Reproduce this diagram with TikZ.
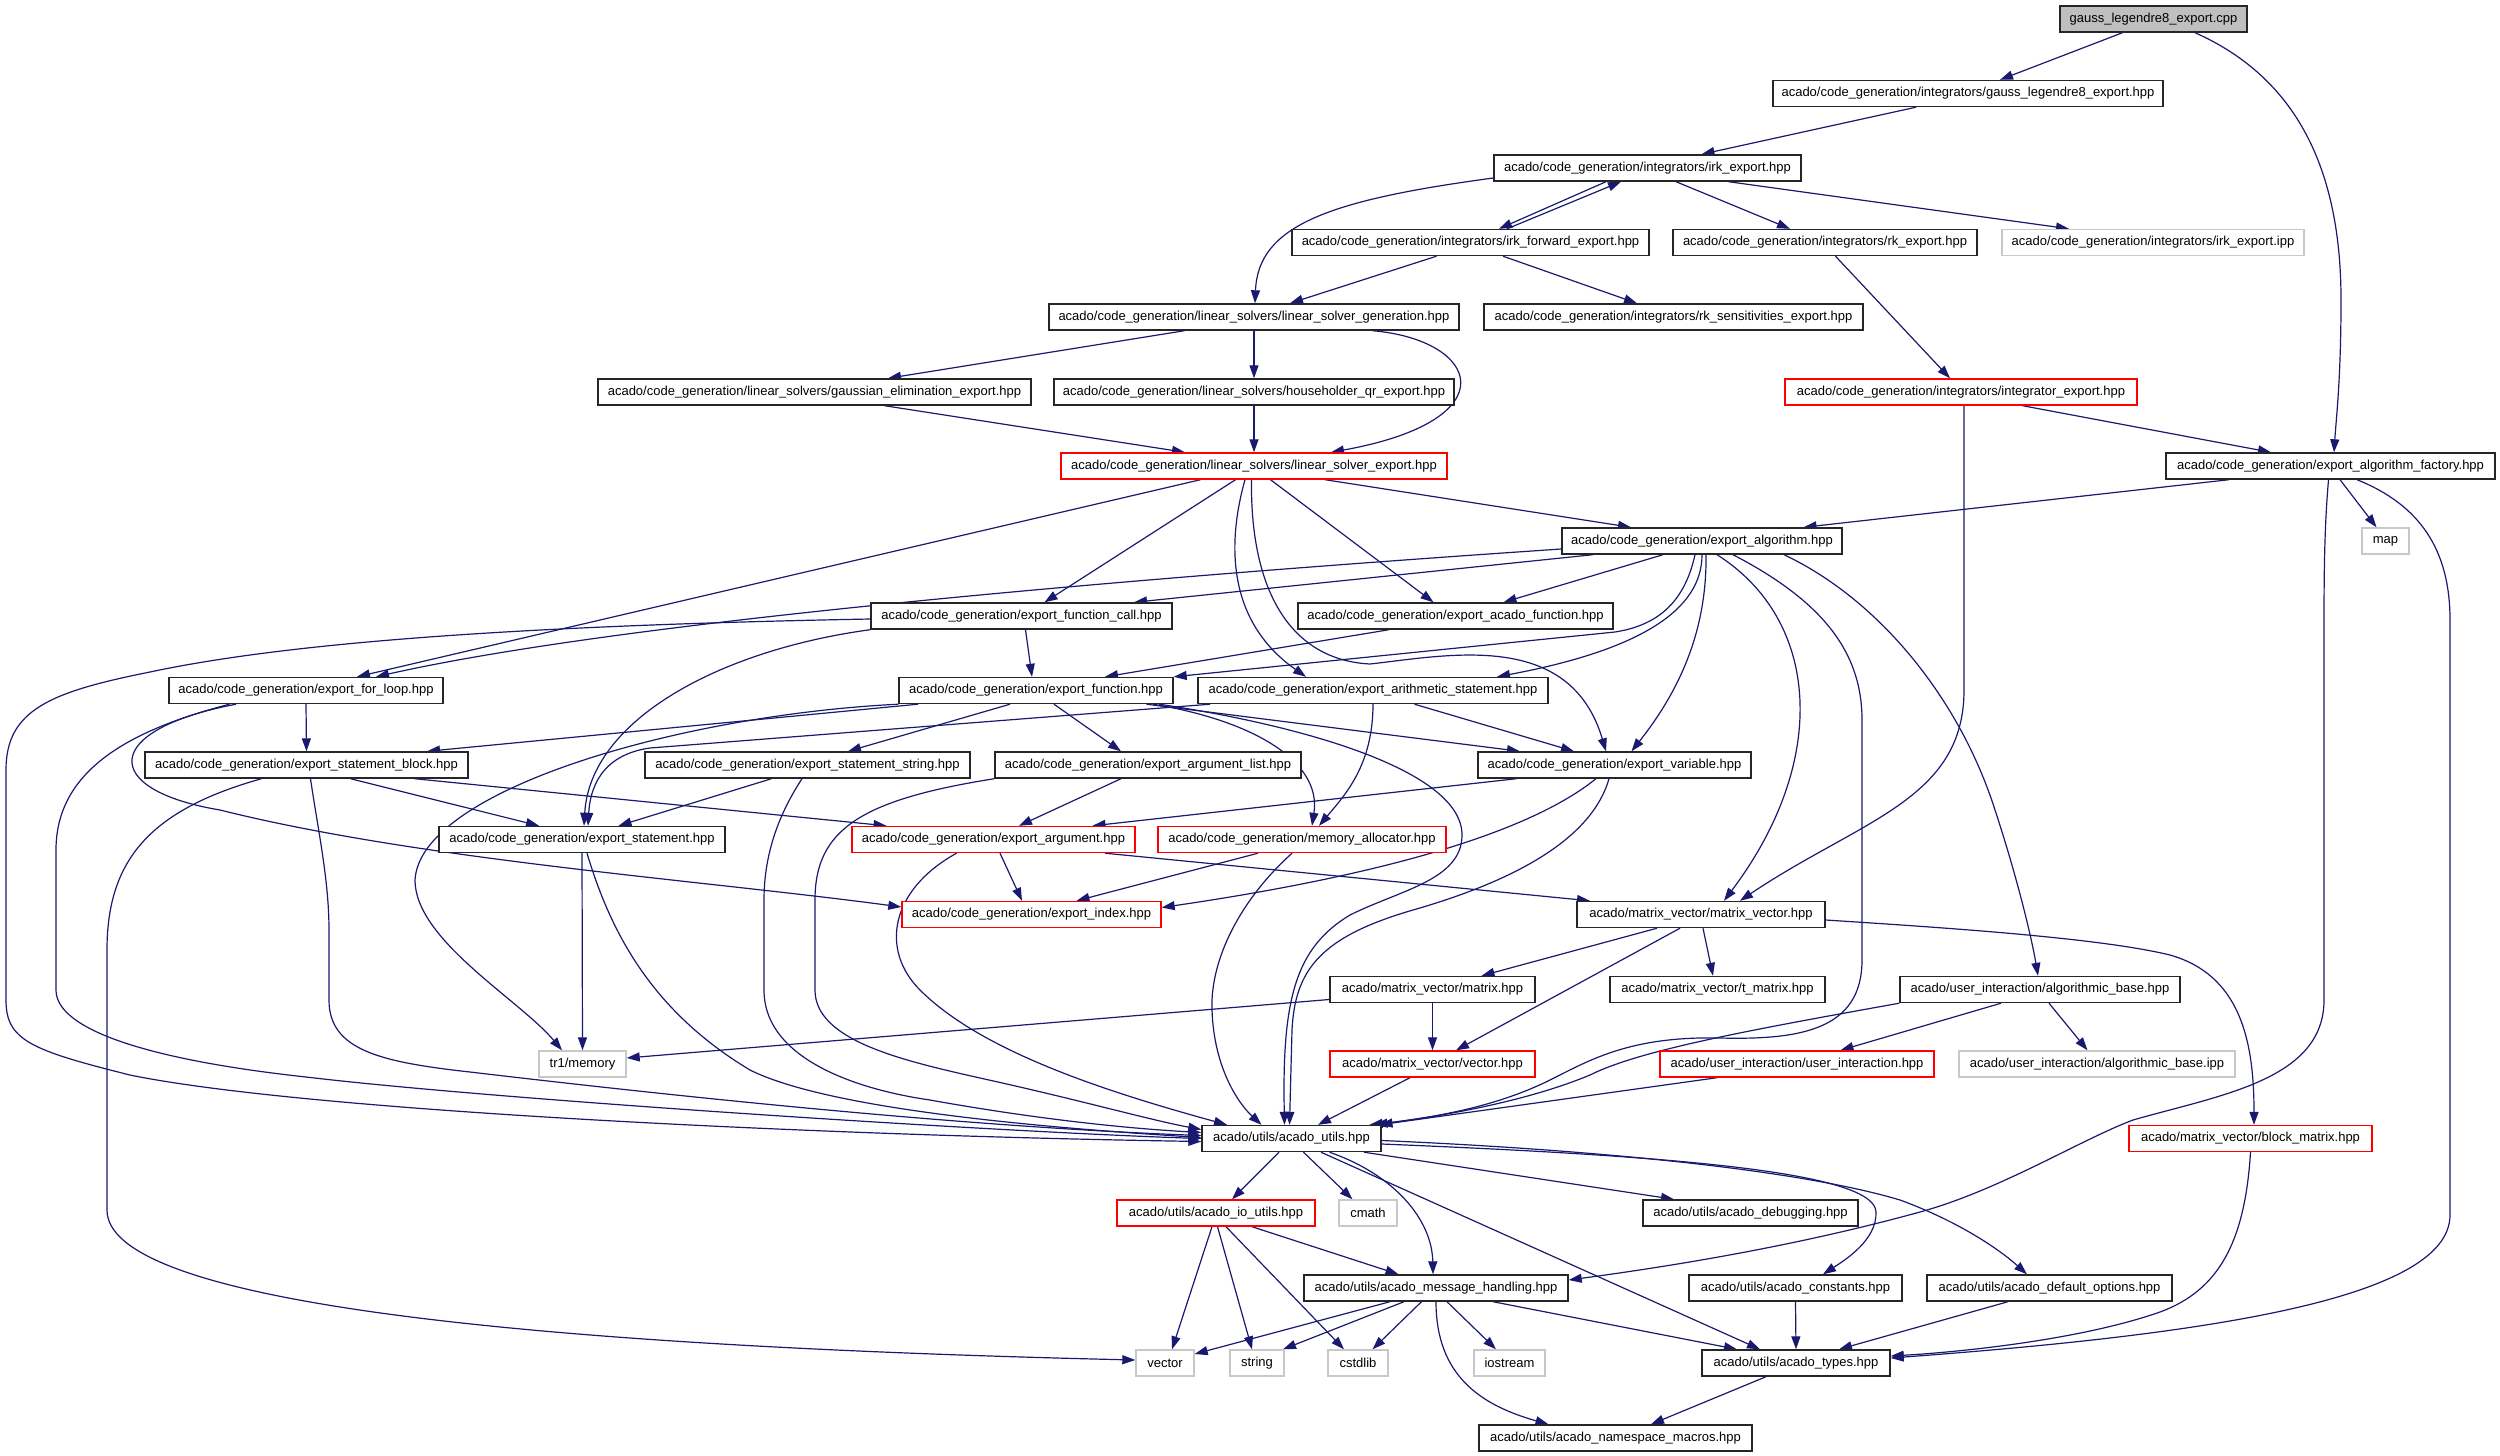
\documentclass[tikz,border=0pt]{standalone}
\usepackage{fontspec}
\setmainfont{Liberation Sans}
\usetikzlibrary{arrows.meta,backgrounds}

\begin{document}
\begin{tikzpicture}
        [x=1pt, y=-1pt, line cap=round,
        % Styles
        file box/.style={draw=black!85, line width=1.4pt, fill=white, minimum height=26pt,
                inner sep=0pt, font=\fontsize{13}{15}\selectfont},
        root box/.style={file box, fill=rootgray},
        missing box/.style={file box, draw=red},
        system box/.style={file box, draw=sysgray},
        include line/.style={draw=linkcolor, line width=1.2pt, -{Triangle[length=13pt, width=9pt]}}]

        % Colors
        \definecolor{linkcolor}{HTML}{191970}
        \definecolor{rootgray}{HTML}{BFBFBF}
        \definecolor{sysgray}{HTML}{C8C8C8}

        \useasboundingbox (0,0) rectangle (2500,1456);

        % The files
        \node[root box, minimum width=187] (cpp) at (2153.5,19) {gauss\_legendre8\_export.cpp};
        \node[file box, minimum width=390] (gausshpp) at (1968,93.5) {acado/code\_generation/integrators/gauss\_legendre8\_export.hpp};
        \node[file box, minimum width=307] (irk) at (1647.5,168) {acado/code\_generation/integrators/irk\_export.hpp};
        \node[file box, minimum width=357] (irkfwd) at (1470.5,242.5) {acado/code\_generation/integrators/irk\_forward\_export.hpp};
        \node[file box, minimum width=304] (rk) at (1825,242.5) {acado/code\_generation/integrators/rk\_export.hpp};
        \node[system box, minimum width=302] (irkipp) at (2153,242.5) {acado/code\_generation/integrators/irk\_export.ipp};
        \node[file box, minimum width=410] (lsgen) at (1254,317) {acado/code\_generation/linear\_solvers/linear\_solver\_generation.hpp};
        \node[file box, minimum width=379] (rksens) at (1673.5,317) {acado/code\_generation/integrators/rk\_sensitivities\_export.hpp};
        \node[file box, minimum width=433] (gausselim) at (814.5,392) {acado/code\_generation/linear\_solvers/gaussian\_elimination\_export.hpp};
        \node[file box, minimum width=400] (householder) at (1254,392) {acado/code\_generation/linear\_solvers/householder\_qr\_export.hpp};
        \node[missing box, minimum width=352] (integrator) at (1961,392) {acado/code\_generation/integrators/integrator\_export.hpp};
        \node[missing box, minimum width=386] (lsexp) at (1254,466) {acado/code\_generation/linear\_solvers/linear\_solver\_export.hpp};
        \node[file box, minimum width=329] (factory) at (2330.5,466) {acado/code\_generation/export\_algorithm\_factory.hpp};
        \node[file box, minimum width=280] (expalg) at (1702,541) {acado/code\_generation/export\_algorithm.hpp};
        \node[system box, minimum width=47] (map) at (2385.5,541) {map};
        \node[file box, minimum width=301] (fcall) at (1021.5,616) {acado/code\_generation/export\_function\_call.hpp};
        \node[file box, minimum width=315] (acadofn) at (1455.5,616) {acado/code\_generation/export\_acado\_function.hpp};
        \node[file box, minimum width=274] (forloop) at (306,690.5) {acado/code\_generation/export\_for\_loop.hpp};
        \node[file box, minimum width=274] (expfn) at (1036,690.5) {acado/code\_generation/export\_function.hpp};
        \node[file box, minimum width=350] (arith) at (1373,690.5) {acado/code\_generation/export\_arithmetic\_statement.hpp};
        \node[file box, minimum width=323] (stblock) at (306.5,765) {acado/code\_generation/export\_statement\_block.hpp};
        \node[file box, minimum width=325] (ststring) at (807.5,765) {acado/code\_generation/export\_statement\_string.hpp};
        \node[file box, minimum width=306] (arglist) at (1148,765) {acado/code\_generation/export\_argument\_list.hpp};
        \node[file box, minimum width=273] (expvar) at (1614.5,765) {acado/code\_generation/export\_variable.hpp};
        \node[file box, minimum width=286] (expstmt) at (582,839.5) {acado/code\_generation/export\_statement.hpp};
        \node[missing box, minimum width=283] (exparg) at (993.5,839.5) {acado/code\_generation/export\_argument.hpp};
        \node[missing box, minimum width=288] (memalloc) at (1302,839.5) {acado/code\_generation/memory\_allocator.hpp};
        \node[missing box, minimum width=259] (expidx) at (1031.5,914.5) {acado/code\_generation/export\_index.hpp};
        \node[file box, minimum width=248] (matvec) at (1701,914.5) {acado/matrix\_vector/matrix\_vector.hpp};
        \node[file box, minimum width=205] (matrix) at (1432.5,989.5) {acado/matrix\_vector/matrix.hpp};
        \node[file box, minimum width=215] (tmatrix) at (1717.5,989.5) {acado/matrix\_vector/t\_matrix.hpp};
        \node[file box, minimum width=280] (algbase) at (2040,989.5) {acado/user\_interaction/algorithmic\_base.hpp};
        \node[system box, minimum width=87] (tr1mem) at (582.5,1064) {tr1/memory};
        \node[missing box, minimum width=205] (vecthpp) at (1432.5,1064) {acado/matrix\_vector/vector.hpp};
        \node[missing box, minimum width=274] (userint) at (1797,1064) {acado/user\_interaction/user\_interaction.hpp};
        \node[system box, minimum width=276] (algipp) at (2097,1064) {acado/user\_interaction/algorithmic\_base.ipp};
        \node[file box, minimum width=179] (utils) at (1291.5,1138.5) {acado/utils/acado\_utils.hpp};
        \node[missing box, minimum width=243] (blockmat) at (2250.5,1138.5) {acado/matrix\_vector/block\_matrix.hpp};
        \node[missing box, minimum width=198] (ioutils) at (1216,1213) {acado/utils/acado\_io\_utils.hpp};
        \node[system box, minimum width=58] (cmath) at (1368,1213) {cmath};
        \node[file box, minimum width=215] (debug) at (1750.5,1213) {acado/utils/acado\_debugging.hpp};
        \node[file box, minimum width=264] (msg) at (1436,1288) {acado/utils/acado\_message\_handling.hpp};
        \node[file box, minimum width=213] (consts) at (1795.5,1288) {acado/utils/acado\_constants.hpp};
        \node[file box, minimum width=245] (defopts) at (2049.5,1288) {acado/utils/acado\_default\_options.hpp};
        \node[system box, minimum width=58] (vectorsys) at (1165,1363) {vector};
        \node[system box, minimum width=54] (stringsys) at (1257,1363) {string};
        \node[system box, minimum width=60] (cstdlib) at (1358,1363) {cstdlib};
        \node[system box, minimum width=71] (iostream) at (1509.5,1363) {iostream};
        \node[file box, minimum width=188] (types) at (1796,1363) {acado/utils/acado\_types.hpp};
        \node[file box, minimum width=273] (nsmacros) at (1615.5,1438) {acado/utils/acado\_namespace\_macros.hpp};

        \begin{scope}[on background layer]
        % Straight includes, bottom of one file to top of the next
        \foreach \src/\ds/\dst/\dd in {cpp/-31/gausshpp/32, gausshpp/-52/irk/54, irk/-41.5/irkfwd/28.5,
                irk/28.5/rk/-35, irk/81/irkipp/-84, irkfwd/-34/lsgen/36, irkfwd/32.5/rksens/-36.5,
                rk/10.5/integrator/-11, lsgen/-69.5/gausselim/73.5, lsgen/0/householder/0,
                gausselim/70/lsexp/-69, householder/0/lsexp/0, integrator/61.5/factory/-59.5,
                factory/-101.5/expalg/101.5, factory/9.5/map/-9, lsexp/-53.5/forloop/51,
                lsexp/-18.5/fcall/23, lsexp/16.5/acadofn/-22, lsexp/71/expalg/-71,
                expalg/-109/fcall/112.5, expalg/-39/acadofn/48, fcall/4/expfn/-4,
                acadofn/-66.5/expfn/69, forloop/0/stblock/0, expfn/-118/stblock/120.5,
                expfn/-26/ststring/40.5, expfn/18/arglist/-27, expfn/110.5/expvar/-94.5,
                arith/41.5/expvar/-40.5, stblock/44/expstmt/-43, stblock/108/exparg/-107,
                ststring/-36/expstmt/36.5, arglist/-27/exparg/25.5, expvar/-98/exparg/99,
                expstmt/0/tr1mem/0, exparg/6.5/expidx/-9.5, exparg/111.5/matvec/-111,
                memalloc/-44/expidx/45, matvec/-44/matrix/49, matvec/2/tmatrix/-4.5,
                matvec/-21/vecthpp/23.5, matrix/0/vecthpp/0, vecthpp/-22.5/utils/26.5,
                algbase/-39/userint/43.5, algbase/9/algipp/-9.5, userint/-80/utils/88,
                utils/-12.5/ioutils/16, utils/12/cmath/-15.5, utils/72.5/debug/-76.5,
                utils/29.5/types/-36, ioutils/-4/vectorsys/7, ioutils/1.5/stringsys/-5,
                ioutils/10/cstdlib/-14, ioutils/36/msg/-37.5, msg/-32/stringsys/26,
                msg/-14.5/cstdlib/14.5, msg/11/iostream/-13.5, msg/57/types/-59,
                consts/0/types/0, defopts/-41.5/types/43, types/-30/nsmacros/35.5}
                \draw[include line] ([xshift=\ds]\src.south) -- ([xshift=\dd]\dst.north);

        \draw[include line] ([xshift=36.5]irkfwd.north) -- ([xshift=-26.5]irk.south);
        \draw[include line] ([xshift=-46]msg.south) -- ([yshift=9]vectorsys.east);
        \draw[include line] ([yshift=-10]matrix.west) -- ([yshift=6]tr1mem.east);
        \draw[include line] ([xshift=-18.5]expvar.south) .. controls (1520,840) and (1350,880) .. ([yshift=7]expidx.east);

        % Curved includes
        \draw[include line] ([xshift=41.5]cpp.south) .. controls (2290,75) and (2341,160) .. (2341,300)
                .. controls (2341,380) and (2336,420) .. ([xshift=3.5]factory.north);
        \draw[include line] ([yshift=-10]irk.west) .. controls (1330,200) and (1258,225) .. ([xshift=1]lsgen.north);
        \draw[include line] ([xshift=118.5]lsgen.south) .. controls (1480,340) and (1510,420) .. ([xshift=77]lsexp.north);
        \draw[include line] ([xshift=3]integrator.south) -- (1964,690)
                .. controls (1964,800) and (1860,820) .. ([xshift=39]matvec.north);
        \draw[include line] ([xshift=-2]factory.south) .. controls (2325,520) and (2324,560) .. (2324,620) -- (2324,1000)
                .. controls (2324,1080) and (2220,1095) .. (2133,1120)
                .. controls (2080,1140) and (2000,1190) .. (1920,1212)
                .. controls (1800,1245) and (1680,1265) .. ([yshift=8]msg.east);
        \draw[include line] ([xshift=26.5]factory.south) .. controls (2420,505) and (2450,550) .. (2450,620) -- (2450,1215)
                .. controls (2450,1300) and (2200,1335) .. ([yshift=5]types.east);
        \draw[include line] ([yshift=-8]expalg.west) .. controls (1250,570) and (650,615) .. ([xshift=70]forloop.north);
        \draw[include line] ([xshift=-9]lsexp.south) .. controls (1228,540) and (1225,620) .. ([xshift=-67]arith.north);
        \draw[include line] ([xshift=-2.5]lsexp.south) .. controls (1250,590) and (1290,660) .. (1370,664)
                .. controls (1450,655) and (1570,630) .. ([xshift=-8.5]expvar.north);
        \draw[include line] ([xshift=-7]expalg.south) .. controls (1685,600) and (1660,625) .. (1615,632) -- (expfn.north east);
        \draw[include line] (expalg.south) .. controls (1702,610) and (1640,650) .. ([xshift=124]arith.north);
        \draw[include line] ([xshift=4]expalg.south) .. controls (1707,630) and (1680,690) .. ([xshift=17]expvar.north);
        \draw[include line] ([xshift=15]expalg.south) .. controls (1820,620) and (1830,760) .. ([xshift=23]matvec.north);
        \draw[include line] ([xshift=31]expalg.south) .. controls (1820,600) and (1862,650) .. (1862,720) -- (1862,960)
                .. controls (1862,1030) and (1800,1040) .. (1720,1038)
                .. controls (1630,1036) and (1590,1060) .. (1550,1080)
                .. controls (1500,1105) and (1440,1117) .. ([xshift=78]utils.north);
        \draw[include line] ([xshift=82]expalg.south) .. controls (1880,600) and (1960,700) .. (1995,810)
                .. controls (2018,880) and (2032,940) .. ([xshift=-2]algbase.north);
        \draw[include line] (fcall.south west) .. controls (720,650) and (590,720) .. ([xshift=2]expstmt.north);
        \draw[include line] ([yshift=-3]fcall.west) .. controls (550,625) and (300,640) .. (150,672)
                .. controls (50,692) and (6,710) .. (6,770) -- (6,1000)
                .. controls (6,1040) and (30,1050) .. (130,1075)
                .. controls (300,1110) and (800,1135) .. ([yshift=-3]utils.west);
        \draw[include line] ([xshift=-76.5]forloop.south) .. controls (130,730) and (56,770) .. (56,850) -- (56,990)
                .. controls (56,1030) and (150,1060) .. (306,1077)
                .. controls (500,1100) and (1000,1132) .. (utils.west);
        \draw[include line] ([xshift=-70]forloop.south) .. controls (100,730) and (100,790) .. (220,810)
                .. controls (420,860) and (700,880) .. ([yshift=7.5]expidx.west);
        \draw[include line] (expfn.south west) .. controls (680,715) and (420,790) .. (415,880)
                .. controls (415,940) and (520,1000) .. ([xshift=-20.5]tr1mem.north);
        \draw[include line] ([xshift=123]expfn.south) .. controls (1300,725) and (1462,770) .. (1462,835)
                .. controls (1462,880) and (1400,890) .. (1350,915)
                .. controls (1295,948) and (1282,1000) .. ([xshift=-7]utils.north);
        \draw[include line] ([xshift=117]expfn.south) .. controls (1250,720) and (1322,760) .. ([xshift=10]memalloc.north);
        \draw[include line] ([xshift=-163]arith.south) -- (650,748) .. controls (600,755) and (590,790) .. ([xshift=6]expstmt.north);
        \draw[include line] (arith.south) .. controls (1373,765) and (1345,795) .. ([xshift=17]memalloc.north);
        \draw[include line] ([xshift=-45]stblock.south) .. controls (150,810) and (107,860) .. (107,950) -- (107,1210)
                .. controls (107,1300) and (500,1345) .. ([yshift=3]vectorsys.west);
        \draw[include line] ([xshift=4]stblock.south) .. controls (318,830) and (329,880) .. (329,930) -- (329,1000)
                .. controls (329,1050) and (380,1062) .. (470,1072)
                .. controls (750,1105) and (1000,1128) .. ([yshift=3]utils.west);
        \draw[include line] ([xshift=-5.5]ststring.south) .. controls (775,820) and (764,860) .. (764,900) -- (764,990)
                .. controls (764,1060) and (860,1090) .. (930,1100)
                .. controls (1030,1118) and (1120,1128) .. ([yshift=6]utils.west);
        \draw[include line] (arglist.south west) .. controls (860,800) and (815,830) .. (815,900) -- (815,990)
                .. controls (815,1040) and (900,1060) .. (980,1078)
                .. controls (1080,1100) and (1150,1120) .. ([yshift=9]utils.west);
        \draw[include line] ([xshift=-5.5]expvar.south) .. controls (1590,845) and (1500,885) .. (1413,910)
                .. controls (1320,937) and (1295,970) .. (1292,1030) -- ([xshift=-2]utils.north);
        \draw[include line] ([xshift=5]expstmt.south) .. controls (610,930) and (650,1010) .. (750,1070)
                .. controls (820,1105) and (1000,1125) .. ([yshift=1]utils.west);
        \draw[include line] ([xshift=-37]exparg.south) .. controls (890,890) and (880,950) .. (920,990)
                .. controls (980,1050) and (1100,1090) .. ([xshift=-64.5]utils.north);
        \draw[include line] ([xshift=-10]memalloc.south) .. controls (1240,900) and (1210,960) .. (1212,1010)
                .. controls (1214,1070) and (1240,1105) .. ([xshift=-30]utils.north);
        \draw[include line] ([yshift=-5.5]matvec.east) .. controls (1950,928) and (2100,938) .. (2170,955)
                .. controls (2240,975) and (2254,1040) .. ([xshift=3.5]blockmat.north);
        \draw[include line] (algbase.south west) .. controls (1750,1030) and (1640,1050) .. (1590,1075)
                .. controls (1530,1100) and (1450,1115) .. ([xshift=83]utils.north);
        \draw[include line] ([xshift=38]utils.south) .. controls (1395,1175) and (1432,1220) .. ([xshift=-3]msg.north);
        \draw[include line] ([yshift=-5.5]utils.east) .. controls (1650,1155) and (1875,1170) .. (1876,1212)
                .. controls (1877,1240) and (1845,1260) .. ([xshift=27.5]consts.north);
        \draw[include line] ([yshift=-2]utils.east) .. controls (1600,1150) and (1800,1170) .. (1900,1200)
                .. controls (1960,1222) and (2000,1250) .. ([xshift=-22.5]defopts.north);
        \draw[include line] (msg.south) .. controls (1436,1375) and (1480,1405) .. ([xshift=-67]nsmacros.north);
        \draw[include line] (blockmat.south) .. controls (2245,1240) and (2220,1290) .. (2160,1312)
                .. controls (2080,1340) and (1960,1352) .. ([yshift=7]types.east);
        \end{scope}
\end{tikzpicture}
\end{document}
